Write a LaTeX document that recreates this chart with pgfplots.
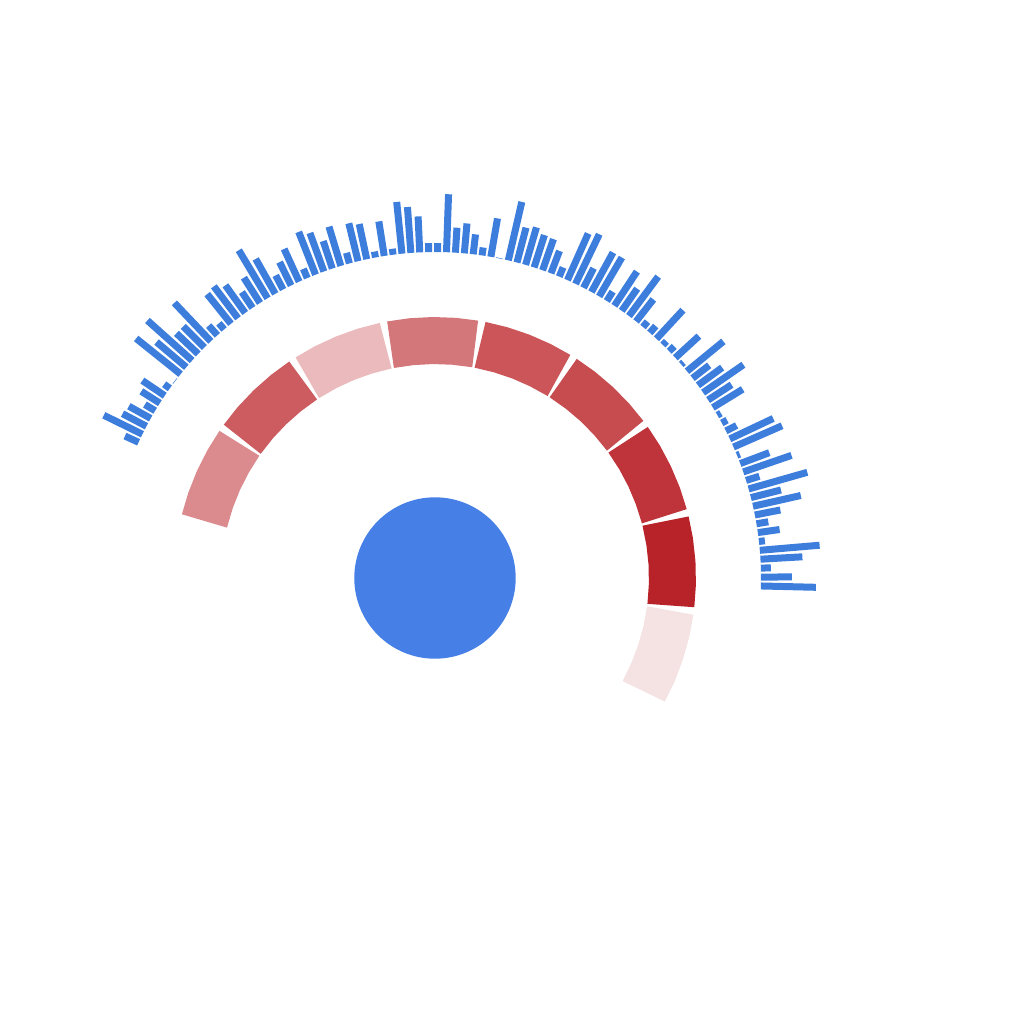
\documentclass[border=0pt]{standalone}
\usepackage{pgfplots}
\usepackage{pgfplotstable}
\pgfplotsset{compat=1.18}
\usepgfplotslibrary{polar}
\definecolor{barblue}{HTML}{3D7EDD}
\definecolor{dotblue}{HTML}{4680E6}
\definecolor{sA}{HTML}{DB8A8E}
\definecolor{sB}{HTML}{CD5C60}
\definecolor{sC}{HTML}{EBBABC}
\definecolor{sD}{HTML}{D4777A}
\definecolor{sE}{HTML}{CB5559}
\definecolor{sF}{HTML}{C64C50}
\definecolor{sG}{HTML}{BF343A}
\definecolor{sH}{HTML}{B8232A}
\definecolor{sI}{HTML}{F5E3E4}
\pgfplotstableread{
len
55
31
10
42
60
6
22
12
26
49
31
61
14
51
31
3
53
48
12
6
4
35
28
49
30
21
47
3
32
7
5
39
9
7
28
49
27
41
11
45
45
22
55
51
10
24
33
34
39
36
60
0.5
39
8
20
30
25
58
9
9
36
46
52
6
35
6
36
39
11
41
29
41
46
10
36
26
16
40
56
30
19
34
40
38
8
13
53
30
30
60
39
57
0.5
7
27
22
12
25
27
43
15
}\bardata
\pgfplotstablegetrowsof{\bardata}
\pgfmathtruncatemacro{\nbars}{\pgfplotsretval-1}
\begin{document}
\begin{tikzpicture}
\useasboundingbox (-4.35,-4.46) rectangle (5.89,5.78);
\begin{polaraxis}[
  at={(0,0)}, anchor=origin,
  hide axis, scale only axis,
  width=12cm, height=12cm,
  xmin=0, xmax=360, ymin=0, ymax=600,
  clip=false,
  ring/.style={line width=0.47cm, line cap=butt, line join=miter},
  barstyle/.style={barblue, line width=0.07cm, line cap=butt},
]
% central disc
\addplot[only marks, mark=*, mark size=0.8cm, color=dotblue, mark options={draw=none, fill=dotblue}] coordinates {(0,0)};
% red ring segments
\addplot[ring, sA] coordinates {(145.45,237.5) (150.61,237.5) (155.78,237.5) (160.94,237.5) (166.10,237.5)};
\addplot[ring, sB] coordinates {(123.72,237.5) (128.87,237.5) (134.02,237.5) (139.18,237.5) (144.25,237.5)};
\addplot[ring, sC] coordinates {(101.99,237.5) (107.14,237.5) (112.29,237.5) (117.44,237.5) (122.52,237.5)};
\addplot[ring, sD] coordinates {(80.26,237.5) (85.41,237.5) (90.56,237.5) (95.71,237.5) (100.79,237.5)};
\addplot[ring, sE] coordinates {(58.53,237.5) (63.68,237.5) (68.83,237.5) (73.98,237.5) (79.06,237.5)};
\addplot[ring, sF] coordinates {(36.80,237.5) (41.95,237.5) (47.10,237.5) (52.25,237.5) (57.33,237.5)};
\addplot[ring, sG] coordinates {(15.07,237.5) (20.22,237.5) (25.37,237.5) (30.52,237.5) (35.60,237.5)};
\addplot[ring, sH] coordinates {(-6.66,237.5) (-1.51,237.5) (3.64,237.5) (8.79,237.5) (13.87,237.5)};
\addplot[ring, sI] coordinates {(-28.50,237.5) (-23.35,237.5) (-18.20,237.5) (-13.05,237.5) (-7.86,237.5)};
% outer blue radial bars
\pgfplotsforeachungrouped \i in {0,...,\nbars}{%
  \pgfplotstablegetelem{\i}{len}\of\bardata
  \pgfmathsetmacro{\tip}{326+\pgfplotsretval}%
  \pgfmathsetmacro{\ang}{-1.4+1.568*\i}%
  \edef\doplot{\noexpand\addplot[barstyle] coordinates {(\ang,326) (\ang,\tip)};}%
  \doplot
}
\end{polaraxis}
\end{tikzpicture}
\end{document}
